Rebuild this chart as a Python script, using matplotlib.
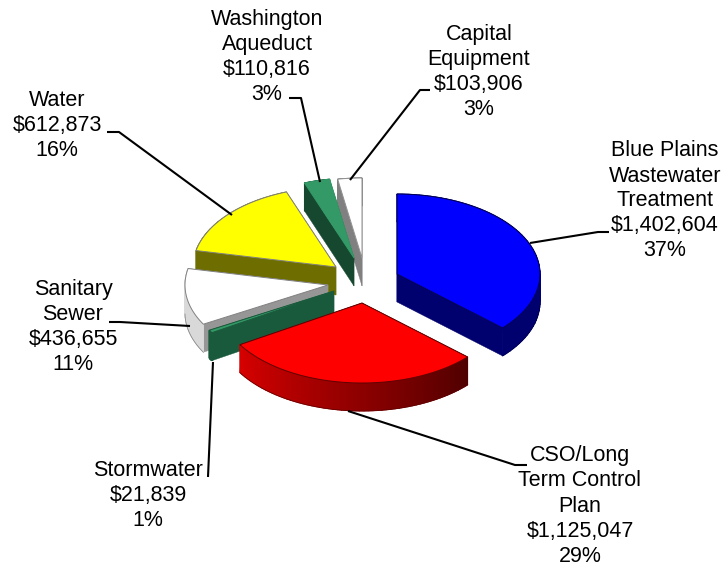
import numpy as np
import matplotlib
matplotlib.use("Agg")
import matplotlib.pyplot as plt
from matplotlib.colors import LinearSegmentedColormap

plt.rcParams['font.family'] = ['Liberation Sans', 'DejaVu Sans']

# Datos (orden del pastel, en sentido horario desde arriba)
categorias = ['Blue Plains\nWastewater\nTreatment', 'CSO/Long\nTerm Control\nPlan', 'Stormwater',
              'Sanitary\nSewer', 'Water', 'Washington\nAqueduct', 'Capital\nEquipment']
valores = [1402604, 1125047, 21839, 436655, 612873, 110816, 103906]
porcentajes = [37, 29, 1, 11, 16, 3, 3]

# Layout in pixels of the reference
apice_x = [397, 362, 334, 328, 336, 354, 362]
apice_y = [274, 303, 291, 285, 267, 258, 258]
texto_x = [665, 580, 148, 73, 57, 267, 479]
texto_y = [201, 506, 496, 327, 126, 57, 72]
guias = [
    [(530, 243), (598, 232), (609, 232)],
    [(348, 411), (515, 465), (527, 465)],
    [(213, 362), (208, 477)],
    [(190, 326), (120, 322), (109, 322)],
    [(232, 215), (119, 132), (107, 132)],
    [(320, 182), (301, 98), (289, 98)],
    [(350, 180), (420, 90), (430, 90)],
]
color_cara = ['#0000ff', '#ff0000', '#339966', '#ffffff', '#ffff00', '#339966', '#ffffff']
color_lado = ['#00006e', '#600000', '#1a5a3c', '#969696', '#6e6e00', '#164830', '#808080']
# color of the outer wall at the start and end of each arc
pared_ini = ['#00006e', '#500000', '#1a5a3c', '#d9d9d9', '#6e6e00', '#164830', '#808080']
pared_fin = ['#00006e', '#d80000', '#1a5a3c', '#d9d9d9', '#6e6e00', '#164830', '#808080']
color_borde = ['#000050', '#600000', '#1a5a3c', '#808080', '#808080', '#339966', '#909090']
orden_dibujo = [6, 5, 4, 3, 2, 1, 0]

RX, RY, PROF = 143, 80, 28

total = sum(valores)
fin = np.cumsum(valores) / total * 2 * np.pi
inicio = np.concatenate([[0], fin[:-1]])


def borde(cx, cy, ang):
    return cx + RX * np.sin(ang), cy - RY * np.cos(ang)


fig = plt.figure(figsize=(7.25, 5.67), dpi=100)
ax = fig.add_axes([0, 0, 1, 1])
ax.set_xlim(0, 725)
ax.set_ylim(567, 0)
ax.axis('off')

for i in orden_dibujo:
    cx, cy = apice_x[i], apice_y[i]
    # radial walls
    for ang in (inicio[i], fin[i]):
        ex, ey = borde(cx, cy, ang)
        ax.fill([cx, ex, ex, cx], [cy, ey, ey + PROF, cy + PROF], color=color_lado[i], lw=0.3)
    # outer wall with a shaded mesh
    angs = np.linspace(inicio[i], fin[i], 60)
    xs, ys = borde(cx, cy, angs)
    malla_x = np.vstack([xs, xs])
    malla_y = np.vstack([ys, ys + PROF])
    t = np.vstack([np.linspace(0, 1, 60)] * 2)
    cmap = LinearSegmentedColormap.from_list('pared', [pared_ini[i], pared_fin[i]])
    ax.pcolormesh(malla_x, malla_y, t, cmap=cmap, vmin=0, vmax=1, shading='gouraud')
    # only the lower arc that faces the viewer gets an outline
    frente = (angs > np.pi / 2) & (angs < 3 * np.pi / 2)
    if frente.any():
        ax.plot(xs[frente], ys[frente] + PROF, color=color_borde[i], lw=0.5)
    # top
    ax.fill(np.r_[cx, xs], np.r_[cy, ys], facecolor=color_cara[i], edgecolor=color_borde[i], lw=0.7)

for g in guias:
    ax.plot([p[0] for p in g], [p[1] for p in g], color='black', lw=1.5, solid_capstyle='butt')

for i in range(len(valores)):
    etiqueta = f"{categorias[i]}\n${valores[i]:,}\n{porcentajes[i]}%"
    ax.text(texto_x[i], texto_y[i], etiqueta, ha='center', va='center', fontsize=15.5,
            linespacing=1.25, color='black')

fig.savefig('out.png', dpi=100)
